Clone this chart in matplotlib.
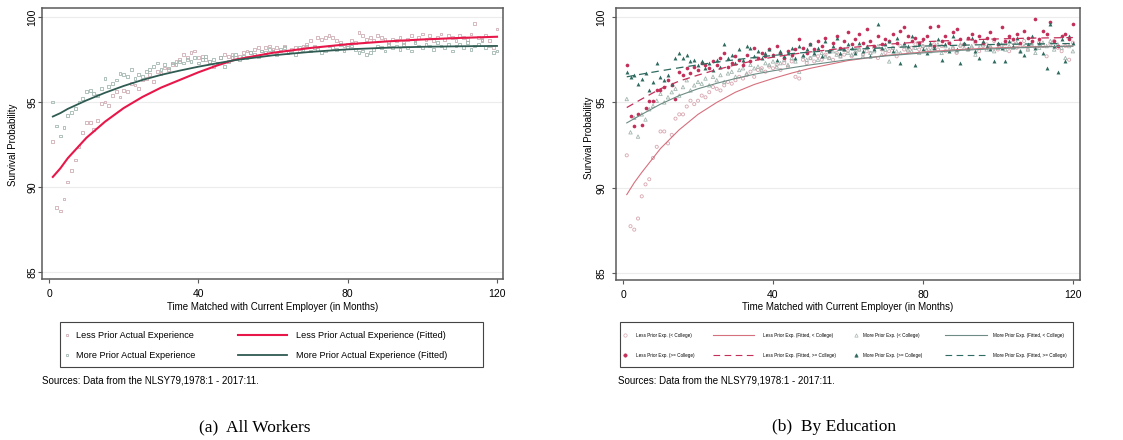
import matplotlib
matplotlib.use("Agg")
import matplotlib.pyplot as plt
from matplotlib.lines import Line2D
from matplotlib.patches import Rectangle
import numpy as np

plt.rcParams['font.family'] = ['Liberation Sans', 'DejaVu Sans']

# ---------------- data ----------------
months = list(range(1, 121))

# Panel (a): all workers
less_prior = [
    92.7, 88.8, 88.6, 89.3, 90.3, 91.0, 91.6, 92.4, 93.2, 93.8,
    93.8, 93.4, 93.9, 94.9, 95.0, 94.8, 95.4, 95.6, 95.3, 95.7,
    95.6, 96.1, 96.0, 95.8, 96.3, 96.4, 96.6, 96.2, 96.8, 96.7,
    97.0, 96.9, 97.2, 97.4, 97.5, 97.8, 97.6, 97.9, 98.0, 97.6,
    97.7, 97.5, 97.4, 97.1, 97.3, 97.6, 97.8, 97.7, 97.8, 97.6,
    97.7, 97.9, 98.0, 97.9, 98.1, 98.2, 98.0, 98.2, 98.3, 98.1,
    98.2, 98.0, 98.3, 97.9, 98.1, 98.2, 98.0, 98.3, 98.4, 98.6,
    98.3, 98.8, 98.7, 98.8, 98.9, 98.8, 98.6, 98.5, 98.3, 98.4,
    98.6, 98.5, 99.1, 98.9, 98.7, 98.8, 98.6, 98.9, 98.8, 98.7,
    98.5, 98.7, 98.6, 98.8, 98.5, 98.7, 98.9, 98.6, 98.8, 99.0,
    98.7, 98.9, 98.6, 98.8, 99.0, 98.7, 98.9, 98.8, 98.6, 98.9,
    98.8, 98.7, 99.0, 99.6, 98.8, 98.7, 98.9, 98.6, 98.2, 99.3]
more_prior = [
    95.0, 93.6, 93.0, 93.5, 94.2, 94.4, 94.6, 95.0, 95.2, 95.6,
    95.7, 95.5, 95.4, 95.8, 96.4, 95.9, 96.1, 96.3, 96.7, 96.6,
    96.5, 96.9, 96.4, 96.6, 96.5, 96.8, 96.9, 97.1, 97.3, 96.9,
    97.2, 97.0, 97.3, 97.2, 97.4, 97.3, 97.5, 97.4, 97.6, 97.3,
    97.5, 97.7, 97.4, 97.5, 97.3, 97.6, 97.1, 97.4, 97.6, 97.8,
    97.5, 97.7, 97.6, 97.9, 97.8, 97.7, 98.0, 97.9, 98.1, 98.0,
    97.8, 98.1, 98.2, 97.9, 98.0, 97.8, 98.2, 98.1, 98.3, 98.0,
    98.2, 98.1, 97.9, 98.0, 98.3, 98.2, 98.1, 98.4, 98.0, 98.2,
    98.3, 98.1, 97.9, 98.0, 97.8, 97.9, 98.1, 98.3, 98.2, 98.0,
    98.4, 98.2, 98.3, 98.1, 98.4, 98.2, 98.0, 98.5, 98.3, 98.2,
    98.4, 98.3, 98.1, 98.5, 98.3, 98.2, 98.4, 98.0, 98.3, 98.4,
    98.2, 98.5, 98.1, 98.3, 98.4, 98.6, 98.2, 98.3, 97.9, 98.0]

fit_months_a = [1, 3, 5, 10, 15, 20, 25, 30, 35, 40, 45, 50, 60, 70, 80, 90, 100, 110, 120]
less_fit = [90.6, 91.1, 91.7, 92.9, 93.85, 94.65, 95.3, 95.85, 96.3, 96.75, 97.15, 97.5,
            97.9, 98.18, 98.4, 98.56, 98.68, 98.77, 98.84]
more_fit = [94.15, 94.35, 94.6, 95.1, 95.55, 95.95, 96.3, 96.6, 96.85, 97.08, 97.28, 97.47,
            97.75, 97.95, 98.1, 98.19, 98.25, 98.28, 98.3]

# Panel (b): by education
less_lo = [
    91.9, 87.75, 87.55, 88.2, 89.5, 90.2, 90.5, 91.75, 92.4, 93.3,
    93.3, 92.6, 93.1, 94.05, 94.3, 94.3, 94.76, 95.1, 94.9, 95.1,
    95.4, 95.3, 95.6, 95.9, 95.8, 95.7, 96.0, 96.2, 96.1, 96.3,
    96.5, 96.4, 96.6, 96.8, 96.5, 96.9, 97.0, 96.8, 97.1, 97.0,
    97.2, 96.9, 97.3, 97.1, 97.4, 96.5, 96.4, 97.5, 97.3, 97.6,
    97.4, 97.7, 97.5, 97.8, 97.6, 97.5, 97.9, 97.7, 97.8, 98.0,
    97.7, 97.9, 98.1, 97.8, 98.0, 97.9, 98.2, 97.6, 98.1, 97.9,
    98.0, 98.2, 97.7, 98.3, 98.1, 98.0, 98.2, 98.4, 98.1, 98.3,
    98.0, 98.2, 98.4, 98.1, 98.3, 98.0, 98.5, 98.2, 97.9, 98.3,
    98.4, 98.1, 98.2, 98.5, 98.0, 98.3, 98.4, 98.2, 98.6, 98.1,
    98.3, 98.4, 98.0, 98.5, 98.2, 98.3, 98.6, 98.1, 98.4, 98.2,
    98.5, 98.3, 97.7, 98.4, 98.6, 98.2, 98.0, 98.3, 97.5, 98.5]
less_hi = [
    97.2, 94.2, 93.6, 94.3, 93.7, 94.7, 95.1, 95.1, 95.75, 95.7,
    95.9, 96.3, 96.0, 95.2, 96.8, 96.6, 97.0, 96.7, 97.1, 96.9,
    97.3, 97.2, 97.0, 97.4, 97.2, 97.6, 97.9, 97.1, 97.3, 97.7,
    97.5, 97.2, 97.8, 97.4, 98.2, 97.6, 97.9, 97.7, 98.1, 97.8,
    98.3, 97.9, 97.6, 98.0, 97.8, 98.1, 98.7, 98.2, 97.9, 98.4,
    98.1, 98.6, 98.3, 98.8, 98.0, 98.5, 98.9, 98.2, 98.6, 99.1,
    98.4, 98.7, 99.0, 98.5, 99.3, 98.6, 98.3, 98.9, 98.4, 98.7,
    98.6, 99.0, 98.5, 99.2, 99.4, 98.9, 98.6, 98.8, 98.5, 98.7,
    98.9, 99.4, 98.3, 99.5, 98.6, 98.9, 98.5, 99.1, 99.3, 98.7,
    98.4, 98.8, 99.0, 98.6, 98.9, 98.5, 98.8, 99.1, 98.7, 98.4,
    99.4, 98.6, 98.9, 98.7, 99.0, 98.5, 99.2, 98.8, 98.6, 99.9,
    98.7, 99.2, 99.0, 99.7, 98.6, 98.3, 98.9, 99.0, 98.7, 99.6]
more_lo = [
    95.2, 93.25, 94.1, 93.0, 94.3, 94.0, 94.6, 94.8, 95.1, 95.5,
    95.0, 95.3, 95.6, 95.8, 95.4, 95.9, 96.3, 95.7, 96.0, 96.2,
    96.1, 96.4, 96.0, 96.5, 96.3, 96.6, 96.2, 96.7, 96.8, 96.5,
    96.9, 97.0, 96.7, 97.2, 97.0, 97.1, 96.9, 97.3, 97.2, 97.4,
    97.1, 97.3, 97.5, 97.2, 97.6, 97.4, 96.8, 97.7, 97.5, 97.6,
    97.8, 97.5, 97.9, 97.7, 97.6, 98.0, 97.8, 97.7, 98.1, 97.9,
    97.8, 98.0, 98.1, 97.7, 98.2, 97.9, 98.0, 98.3, 97.8, 98.1,
    97.4, 98.2, 98.0, 97.9, 98.3, 98.1, 98.0, 98.2, 97.9, 98.3,
    98.1, 98.0, 98.2, 98.4, 97.9, 98.3, 98.1, 98.2, 98.0, 98.4,
    98.2, 98.1, 98.3, 97.8, 98.2, 98.4, 98.1, 98.3, 98.0, 98.2,
    98.4, 98.1, 98.3, 98.2, 98.5, 98.0, 98.3, 98.1, 98.4, 97.9,
    98.2, 98.5, 98.3, 98.6, 98.1, 98.4, 98.2, 97.6, 98.3, 98.0]
more_hi = [
    96.8, 96.5, 96.6, 96.05, 96.4, 96.7, 95.7, 96.2, 97.3, 96.5,
    96.3, 96.6, 96.1, 97.6, 97.9, 97.6, 97.8, 97.4, 97.5, 97.2,
    97.4, 97.0, 97.3, 96.9, 97.5, 97.1, 98.4, 97.6, 97.8, 97.3,
    98.1, 97.5, 98.3, 98.2, 97.7, 98.0, 97.6, 97.9, 98.1, 97.8,
    97.5, 98.0, 97.7, 97.9, 98.2, 97.6, 98.3, 97.8, 98.1, 98.4,
    97.9, 98.2, 97.7, 98.6, 98.0, 98.3, 98.8, 97.9, 98.1, 98.4,
    98.2, 97.9, 98.5, 98.0, 98.3, 97.7, 98.1, 99.6, 98.2, 98.4,
    98.6, 98.0, 98.8, 97.3, 98.5, 98.3, 98.9, 97.2, 98.4, 98.1,
    97.9, 98.5, 98.2, 98.7, 97.5, 98.4, 98.0, 98.9, 98.1, 97.3,
    98.5, 98.2, 98.8, 98.0, 97.6, 98.6, 98.3, 98.1, 97.4, 98.5,
    98.2, 97.4, 98.6, 98.3, 98.8, 98.0, 97.8, 98.4, 98.9, 98.2,
    98.5, 97.9, 97.0, 99.6, 98.3, 96.8, 98.7, 97.4, 98.9, 98.5]

fit_months_b = [1, 3, 5, 10, 15, 20, 25, 30, 35, 40, 45, 50, 60, 70, 80, 90, 100, 110, 120]
less_lo_fit = [89.6, 90.3, 90.9, 92.3, 93.4, 94.3, 95.0, 95.6, 96.05, 96.4, 96.72, 97.0,
               97.45, 97.75, 97.95, 98.1, 98.2, 98.26, 98.3]
less_hi_fit = [94.7, 94.95, 95.2, 95.8, 96.25, 96.6, 96.92, 97.2, 97.45, 97.65, 97.82, 97.96,
               98.2, 98.4, 98.55, 98.65, 98.72, 98.77, 98.8]
more_lo_fit = [93.8, 94.05, 94.3, 94.9, 95.4, 95.8, 96.12, 96.4, 96.65, 96.85, 97.03, 97.2,
               97.5, 97.72, 97.9, 98.05, 98.15, 98.24, 98.3]
more_hi_fit = [96.5, 96.58, 96.66, 96.85, 97.03, 97.2, 97.36, 97.5, 97.63, 97.75, 97.86, 97.95,
               98.1, 98.2, 98.3, 98.35, 98.4, 98.43, 98.45]

yticks = [85, 90, 95, 100]
xticks = [0, 40, 80, 120]

# ---------------- styling ----------------
C_RED = '#e8174a'
C_GREEN = '#2f5b52'
C_LESS_MK = '#cfaeb5'
C_MORE_MK = '#a3b8b1'
C_PINK_LINE = '#d6707e'
C_GRAY_LINE = '#6e8c85'
C_CRIMSON = '#c2305a'
C_TEAL = '#2f6b60'
C_HOLLOW_PINK = '#d7a6b0'
C_HOLLOW_GRAY = '#a3b6b0'
SPINE = '#5a5a5a'

W, H = 1123, 440
fig = plt.figure(figsize=(W / 100, H / 100), dpi=100)


def px_axes(l, r, t, b):
    return [l / W, 1 - b / H, (r - l) / W, (b - t) / H]


def style_axes(ax, xlim, ylim, ypad):
    ax.set_xlim(*xlim)
    ax.set_ylim(*ylim)
    ax.set_xticks(xticks)
    ax.set_yticks(yticks)
    ax.set_yticklabels([str(v) for v in yticks], rotation=90, va='center')
    ax.tick_params(axis='x', length=3, width=0.8, color=SPINE, labelsize=7.5, pad=4)
    ax.tick_params(axis='y', length=3, width=0.8, color=SPINE, labelsize=7.5, pad=ypad)
    for s in ax.spines.values():
        s.set_color(SPINE)
        s.set_linewidth(1.1)
    for v in yticks:
        ax.axhline(v, color='#ececec', lw=0.8, zorder=0)


# Panel (a)
ax1 = fig.add_axes(px_axes(42, 503, 8, 279))
style_axes(ax1, (-1.9, 121.6), (84.6, 100.53), 0.5)
ax1.scatter(months, less_prior, marker='s', s=4, facecolors='none',
            edgecolors=C_LESS_MK, linewidths=0.6, zorder=2)
ax1.scatter(months, more_prior, marker='s', s=4, facecolors='none',
            edgecolors=C_MORE_MK, linewidths=0.6, zorder=2)
ax1.plot(fit_months_a, less_fit, color=C_RED, lw=1.5, zorder=3)
ax1.plot(fit_months_a, more_fit, color=C_GREEN, lw=1.3, zorder=3)

# Panel (b)
ax2 = fig.add_axes(px_axes(616, 1080, 8, 280))
style_axes(ax2, (-1.87, 121.9), (84.6, 100.53), 4)
ax2.scatter(months, less_lo, marker='o', s=5, facecolors='none',
            edgecolors=C_HOLLOW_PINK, linewidths=0.6, zorder=2)
ax2.scatter(months, more_lo, marker='^', s=6, facecolors='none',
            edgecolors=C_HOLLOW_GRAY, linewidths=0.6, zorder=2)
ax2.scatter(months, less_hi, marker='o', s=7, color=C_CRIMSON, linewidths=0, zorder=2)
ax2.scatter(months, more_hi, marker='^', s=8, color=C_TEAL, linewidths=0, zorder=2)
ax2.plot(fit_months_b, less_lo_fit, color=C_PINK_LINE, lw=0.8, zorder=3)
ax2.plot(fit_months_b, more_lo_fit, color=C_GRAY_LINE, lw=0.8, zorder=3)
ax2.plot(fit_months_b, less_hi_fit, color=C_CRIMSON, lw=0.9, ls=(0, (6, 4)), zorder=3)
ax2.plot(fit_months_b, more_hi_fit, color=C_TEAL, lw=0.9, ls=(0, (6, 4)), zorder=3)

# axis titles
xlab = 'Time Matched with Current Employer (in Months)'
fig.text(273 / W, 1 - 307 / H, xlab, ha='center', va='center', fontsize=7)
fig.text(848 / W, 1 - 307 / H, xlab, ha='center', va='center', fontsize=7)
fig.text(13 / W, 1 - 145 / H, 'Survival Probability', rotation=90,
         ha='center', va='center', fontsize=7)
fig.text(589 / W, 1 - 138 / H, 'Survival Probability', rotation=90,
         ha='center', va='center', fontsize=7)


def fx(x):
    return x / W


def fy(y):
    return 1 - y / H


# legend (a)
fig.add_artist(Rectangle((fx(60), fy(367)), (483 - 60) / W, (367 - 322) / H,
                         transform=fig.transFigure, fill=False, ec='#444444', lw=0.8))
rows = [335, 355]
leg_a = [
    (C_LESS_MK, 'Less Prior Actual Experience', C_RED, 1.5,
     'Less Prior Actual Experience (Fitted)'),
    (C_MORE_MK, 'More Prior Actual Experience', C_GREEN, 1.3,
     'More Prior Actual Experience (Fitted)'),
]
for y, (mc, mt, lc, lw, lt) in zip(rows, leg_a):
    fig.add_artist(Line2D([fx(67)], [fy(y)], marker='s', ms=2.0, mfc='none', mec=mc,
                          mew=0.6, ls='none', transform=fig.transFigure))
    fig.text(fx(76), fy(y), mt, ha='left', va='center', fontsize=6.6)
    fig.add_artist(Line2D([fx(238), fx(287)], [fy(y), fy(y)], color=lc, lw=lw,
                          transform=fig.transFigure))
    fig.text(fx(296), fy(y), lt, ha='left', va='center', fontsize=6.6)

# legend (b)
fig.add_artist(Rectangle((fx(620), fy(367)), (1073 - 620) / W, (367 - 322) / H,
                         transform=fig.transFigure, fill=False, ec='#444444', lw=0.8))
leg_b = [
    [('o', 'none', C_HOLLOW_PINK, 'Less Prior Exp. (< College)'),
     (C_PINK_LINE, '-', 'Less Prior Exp. (Fitted, < College)'),
     ('^', 'none', C_HOLLOW_GRAY, 'More Prior Exp. (< College)'),
     (C_GRAY_LINE, '-', 'More Prior Exp. (Fitted, < College)')],
    [('o', C_CRIMSON, C_CRIMSON, 'Less Prior Exp. (>= College)'),
     (C_CRIMSON, (0, (6, 4)), 'Less Prior Exp. (Fitted, >= College)'),
     ('^', C_TEAL, C_TEAL, 'More Prior Exp. (>= College)'),
     (C_TEAL, (0, (6, 4)), 'More Prior Exp. (Fitted, >= College)')],
]
mk_x = [625, 856]
mk_tx = [636, 863]
ln_x = [(713, 754), (945, 987)]
ln_tx = [763, 993]
for y, row in zip(rows, leg_b):
    for k in range(2):
        m, fc, ec, txt = row[2 * k]
        fig.add_artist(Line2D([fx(mk_x[k])], [fy(y)], marker=m, ms=2.4, mfc=fc, mec=ec,
                              mew=0.5, ls='none', transform=fig.transFigure))
        fig.text(fx(mk_tx[k]), fy(y), txt, ha='left', va='center', fontsize=3.3)
        lc, ls, ltxt = row[2 * k + 1]
        fig.add_artist(Line2D([fx(ln_x[k][0]), fx(ln_x[k][1])], [fy(y), fy(y)], color=lc,
                              lw=0.8, ls=ls, transform=fig.transFigure))
        fig.text(fx(ln_tx[k]), fy(y), ltxt, ha='left', va='center', fontsize=3.3)

# sources
src = 'Sources: Data from the NLSY79,1978:1 - 2017:11.'
fig.text(fx(42), fy(380), src, ha='left', va='center', fontsize=7)
fig.text(fx(618), fy(380), src, ha='left', va='center', fontsize=7)

# captions
fig.text(fx(255), fy(427), '(a)  All Workers', ha='center', va='center',
         fontsize=12.5, family=['Liberation Serif', 'DejaVu Serif'])
fig.text(fx(834), fy(427), '(b)  By Education', ha='center', va='center',
         fontsize=12.5, family=['Liberation Serif', 'DejaVu Serif'])

fig.savefig('out.png', dpi=100)
